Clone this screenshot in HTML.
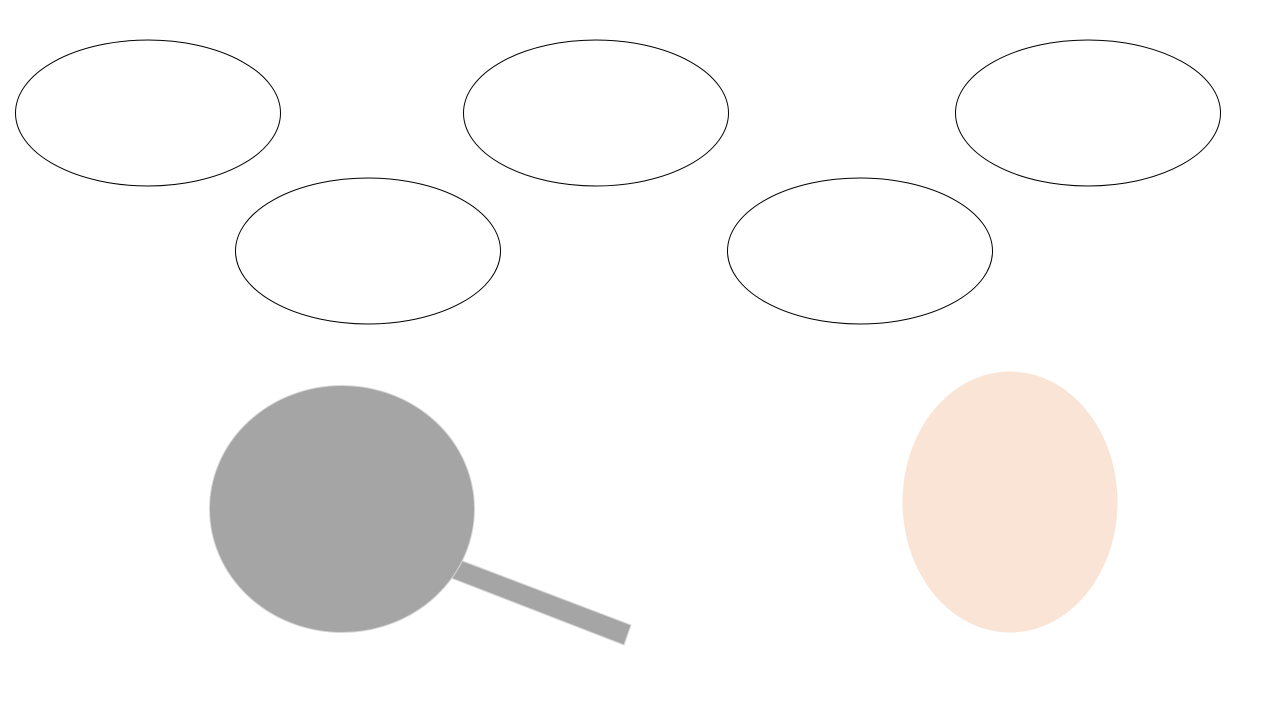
<!DOCTYPE html>
<html>
<head>
<meta charset="utf-8">
<style>
html,body{margin:0;padding:0;background:#fff;}
svg{display:block;}
</style>
</head>
<body>
<svg width="1288" height="722" viewBox="0 0 1288 722" xmlns="http://www.w3.org/2000/svg">
  <ellipse cx="148" cy="113" rx="132.5" ry="73" fill="#fff" stroke="#000" stroke-width="1"/>
  <ellipse cx="596" cy="113" rx="132.5" ry="73" fill="#fff" stroke="#000" stroke-width="1"/>
  <ellipse cx="1088" cy="113" rx="132.5" ry="73" fill="#fff" stroke="#000" stroke-width="1"/>
  <ellipse cx="368" cy="251" rx="132.5" ry="73" fill="#fff" stroke="#000" stroke-width="1"/>
  <ellipse cx="860" cy="251" rx="132.5" ry="73" fill="#fff" stroke="#000" stroke-width="1"/>
  <g>
    <polygon points="460,560 631,625 624,645 451,578" fill="#a5a5a5" stroke="#d8d8d8" stroke-width="1"/>
    <ellipse cx="342" cy="509" rx="132.5" ry="123.5" fill="#a5a5a5" stroke="#d8d8d8" stroke-width="1"/>
  </g>
  <ellipse cx="1010" cy="502" rx="107.5" ry="130.5" fill="#fae4d6"/>
</svg>
</body>
</html>
